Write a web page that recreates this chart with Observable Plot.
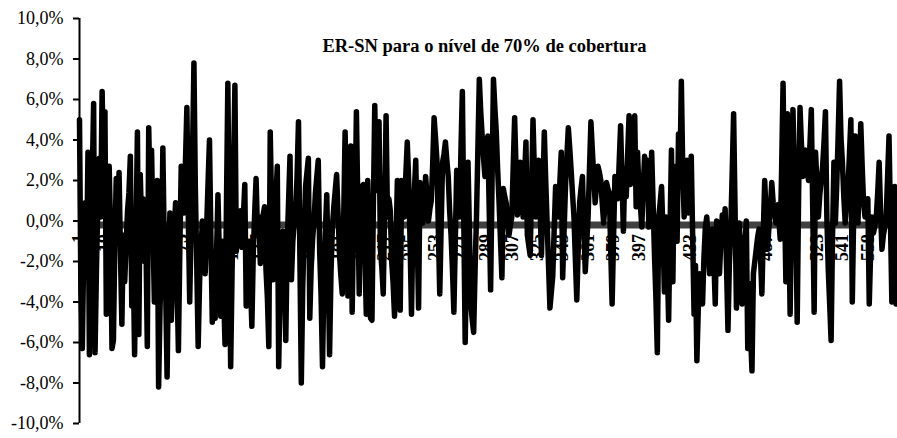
<!DOCTYPE html>
<html><head><meta charset="utf-8">
<script src="https://cdn.jsdelivr.net/npm/d3@7"></script>
<script src="https://cdn.jsdelivr.net/npm/@observablehq/plot@0.6"></script>
<style>body{margin:0;background:#fff}</style>
</head><body><div id="chart"></div>
<script>
const title = "ER-SN para o nível de 70% de cobertura";

// ER-SN series (in %), points 1-195
const seg1 = [
5.0,-3.5,-6.3,-1.5,0.9,-2.2,3.4,-6.6,-1.0,2.1,
5.8,-6.5,-2.4,1.0,3.1,0.2,6.4,2.6,5.4,-4.6,
-0.9,2.7,-0.5,-6.3,-5.9,-1.2,2.1,-1.0,2.4,-1.6,
-5.1,-0.7,-3.0,-1.2,0.5,1.4,3.2,-4.2,-1.8,-6.6,
-0.6,4.4,-5.6,2.3,-0.3,1.1,-2.0,-0.8,-6.2,4.6,
0.9,3.5,-0.4,-4.0,-1.1,2.0,-8.2,-4.3,-2.0,3.6,
-1.3,-3.4,-7.7,-2.1,0.4,-4.9,-2.6,-0.7,0.9,-2.8,
-6.4,-1.5,2.7,1.2,0.4,2.9,5.6,0.3,-4.0,-0.2,
3.3,7.8,1.6,-2.2,-6.2,-3.0,-1.4,0.0,-1.3,-2.6,
-0.3,1.9,4.0,-0.8,-5.0,-2.2,-4.8,-1.6,1.3,-1.7,
-4.7,-1.0,-3.4,-6.1,0.6,6.8,-0.6,-7.2,-2.5,2.3,
6.7,-1.5,-0.4,0.1,0.5,-1.3,0.2,1.8,-4.2,-2.5,
-1.0,-2.9,-5.2,-1.6,0.4,2.1,-0.6,0.2,-2.1,-0.9,
0.3,0.7,-2.4,-3.8,-6.2,4.4,0.6,-2.9,-0.5,1.1,
2.7,-7.2,-3.1,-1.4,-0.5,-2.6,-5.9,-1.2,1.0,3.2,
-2.9,-1.0,-0.1,0.4,2.2,4.9,-1.8,-8.0,-3.3,-0.7,
1.7,2.4,3.1,-4.8,-2.3,-0.9,0.0,1.4,2.2,3.0,
-1.5,-3.7,-7.2,-3.0,-0.6,1.3,-2.1,-6.6,-2.6,-0.3,
0.7,1.5,2.3,0.4,-1.6,-2.7,-3.6,0.1,4.4,0.5,
-3.7,-0.2,3.7,-4.5,0.2
];
// points 196-386
const seg2 = [
0.2,5.4,0.9,-3.6,1.7,0.4,1.8,-1.5,
-4.6,2.0,-1.2,-4.8,-4.9,0.7,5.7,
1.5,2.9,4.9,-1.4,-2.3,-3.6,0.6,5.2,
0.2,1.1,0.5,-2.0,-3.1,-4.7,-1.3,2.0,-0.9,
-4.4,2.0,0.9,0.2,2.3,3.9,2.0,-1.1,
-4.6,-0.1,1.4,3.0,-0.6,-4.3,1.9,0.8,
-0.1,1.0,2.2,1.2,0.0,0.6,1.0,2.8,5.1,4.1,
3.0,-0.4,-3.6,-0.2,2.9,3.3,3.9,3.0,2.2,0.5,
-0.7,-2.4,-4.5,-1.0,2.5,1.1,0.2,3.5,6.4,0.1,
-6.0,-1.8,2.9,-0.5,-4.1,-4.9,-5.5,-2.4,0.2,3.6,
7.0,5.4,4.2,3.1,2.2,3.3,4.2,0.6,-3.4,1.9,
7.0,5.6,4.4,2.5,0.9,-1.0,-2.8,1.6,1.2,
0.9,0.0,-0.7,-0.2,0.2,2.7,5.1,2.6,0.3,1.6,
2.9,1.4,0.2,2.1,3.9,-0.7,-1.2,-1.7,1.6,
5.0,2.4,0.2,1.8,3.0,0.7,-1.7,1.3,4.4,2.0,
-0.1,-2.2,-4.3,-3.5,-2.7,-0.4,1.7,0.9,0.2,1.9,
3.4,-2.8,-0.5,1.7,3.2,4.6,3.6,2.5,1.3,
0.2,-1.9,-3.9,-1.4,0.9,1.6,2.2,-0.3,-2.5,-1.1,
0.2,2.6,4.9,3.5,2.2,0.9,1.8,2.7,2.4,
2.0,0.9,-0.1,0.9,1.9,1.6,1.4,-1.4,-4.1,-0.9,
2.2,1.6,1.1,2.9,4.7,2.0,-0.5
];
// points 387-580
const seg3 = [
2.6,1.2,3.3,5.2,1.8,2.4,4.1,5.2,0.7,3.4,
1.5,0.8,-0.3,1.6,3.2,1.9,3.0,-0.3,1.2,3.4,
0.9,-1.7,-3.8,-6.5,0.2,0.9,1.7,-0.6,-3.5,0.2,
-1.9,-4.9,-0.4,3.5,-3.0,2.7,0.8,-1.0,4.3,2.2,
6.9,2.5,0.2,1.6,3.0,0.4,1.4,3.2,-0.7,-4.6,
-2.2,-6.9,-4.3,-2.6,-3.6,-4.1,-1.8,-0.3,0.2,-1.2,
-2.6,-1.0,-0.4,-1.9,-4.1,0.0,-1.3,-2.6,-0.9,0.3,
-0.6,0.6,-2.3,-5.4,-2.1,-0.3,2.4,5.3,0.7,-4.3,
-1.9,-0.1,-1.6,-4.1,-2.4,-1.2,0.0,-6.3,-3.1,-5.6,
-7.4,-2.6,-2.0,-1.4,-0.8,-0.4,-1.7,-3.6,-0.6,2.0,
0.3,-1.4,-0.3,0.6,1.9,0.9,0.4,-0.1,0.8,0.1,
-0.9,2.6,6.8,1.2,-3.0,5.3,0.4,-4.6,0.8,5.5,
2.4,0.2,-5.0,1.3,5.6,3.8,2.2,2.9,3.5,2.6,
2.0,3.7,5.5,0.6,-4.5,3.4,1.8,0.2,1.3,2.0,
2.7,3.9,5.4,0.2,-2.4,-4.1,-5.9,-0.8,2.9,-0.1,
1.8,4.2,6.9,4.1,2.9,1.2,-0.1,0.9,1.7,3.3,
5.0,-4.0,0.4,4.2,2.1,-0.1,2.3,4.8,2.7,0.9,
0.2,0.5,1.1,-4.1,-1.5,0.2,-0.6,-0.2,0.2,1.4,
2.9,0.5,-1.4,-0.7,-0.3,0.2,2.2,4.2,0.1,-4.0,
-1.2,1.7,-4.1,0.3
];

const yTicks = [-10, -8, -6, -4, -2, 0, 2, 4, 6, 8, 10];
const xTicks = [1,19,37,55,73,91,109,127,145,163,181,199,217,235,253,271,289,307,325,343,361,379,397,415,433,451,469,487,505,523,541,559];
const axisLevel = -0.2;

const values = [...seg1, ...seg2, ...seg3];
const data = values.map((v, i) => ({t: i + 1, v}));
const fmt = d => d.toFixed(1).replace(".", ",") + "%";
const font = "'Liberation Serif', 'Times New Roman', serif";

const chart = Plot.plot({
  width: 897, height: 438,
  marginLeft: 79, marginRight: 0, marginTop: 18, marginBottom: 15,
  style: {fontFamily: font, background: "#fff", color: "#000"},
  x: {domain: [1, 580], axis: null},
  y: {domain: [-10, 10], axis: null},
  marks: [
    Plot.ruleY([axisLevel], {stroke: "#404040", strokeWidth: 7}),
    Plot.text(xTicks, {x: d => d, y: () => axisLevel, text: d => String(d), rotate: -90,
      textAnchor: "end", dy: 9, fontSize: 18, fontWeight: "bold", fill: "#000"}),
    Plot.line(data, {x: "t", y: "v", stroke: "#000", strokeWidth: 5.5,
      strokeLinejoin: "round", strokeLinecap: "round"}),
    Plot.ruleX([1], {stroke: "#000", strokeWidth: 2}),
    Plot.axisY(yTicks, {anchor: "left", label: null, tickSize: 6, tickPadding: 10, tickFormat: fmt,
      fontSize: 18, strokeWidth: 2, stroke: "#000", fill: "#000"}),
    Plot.text([title], {frameAnchor: "top", dy: 20, dx: -4, fontSize: 18.5,
      fontWeight: "bold", fill: "#000"})
  ]
});
document.getElementById("chart").appendChild(chart);
</script>
</body></html>
